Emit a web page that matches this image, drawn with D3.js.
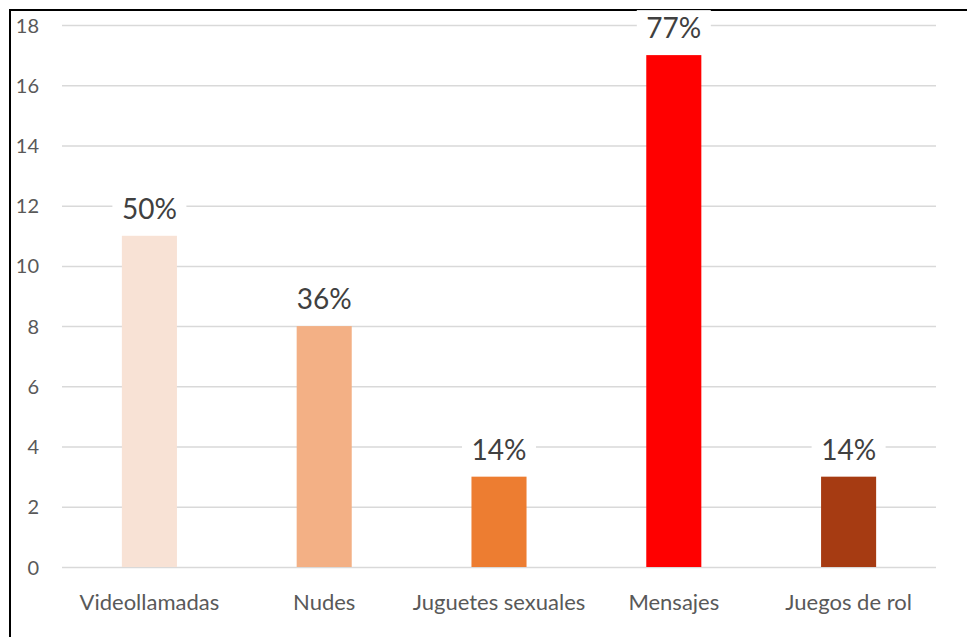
<!DOCTYPE html>
<html>
<head>
<meta charset="utf-8">
<script src="https://cdn.jsdelivr.net/npm/d3@7"></script>
<style>
  html, body { margin: 0; padding: 0; background: #fff; }
  svg { display: block; font-family: Lato, "Open Sans", sans-serif; }
</style>
</head>
<body>
<svg id="chart" width="967" height="637"></svg>
<script>
// Chart data
const categories = ["Videollamadas", "Nudes", "Juguetes sexuales", "Mensajes", "Juegos de rol"];
const counts = [11, 8, 3, 17, 3];
const percentLabels = ["50%", "36%", "14%", "77%", "14%"];
const barColors = ["#f8e2d5", "#f3b085", "#ed7d31", "#ff0000", "#a63b12"];
const yTicks = [0, 2, 4, 6, 8, 10, 12, 14, 16, 18];

const svg = d3.select("#chart");
const W = 967, H = 637;
const margin = { left: 62, right: 31, top: 25, bottom: 70 };

// Outer frame
svg.append("rect")
  .attr("x", 10).attr("y", 10)
  .attr("width", W + 20).attr("height", H + 20)
  .attr("fill", "#fff").attr("stroke", "#000").attr("stroke-width", 2);

const x = d3.scaleBand()
  .domain(categories)
  .range([margin.left, W - margin.right])
  .paddingInner(0.685).paddingOuter(0.3425);

const y = d3.scaleLinear()
  .domain([0, 18])
  .range([H - margin.bottom, margin.top]);

// Gridlines
svg.append("g").selectAll("line")
  .data(yTicks)
  .join("line")
  .attr("x1", margin.left).attr("x2", W - margin.right)
  .attr("y1", d => y(d) + 0.5).attr("y2", d => y(d) + 0.5)
  .attr("stroke", "#d9d9d9").attr("stroke-width", 1.5);

// Y axis labels
const yAxis = d3.axisLeft(y).tickValues(yTicks).tickSize(0).tickPadding(0);
const yg = svg.append("g")
  .attr("transform", `translate(${margin.left - 23},0)`)
  .call(yAxis);
yg.select(".domain").remove();
yg.selectAll("text")
  .attr("fill", "#595959")
  .attr("font-size", 20)
  .attr("font-family", "Lato, 'Open Sans', sans-serif")
  .attr("dy", "0.35em");

// Bars
svg.append("g").selectAll("rect")
  .data(counts)
  .join("rect")
  .attr("x", (d, i) => x(categories[i]))
  .attr("width", x.bandwidth())
  .attr("y", d => y(d))
  .attr("height", d => y(0) - y(d))
  .attr("fill", (d, i) => barColors[i]);

// X axis labels
const xAxis = d3.axisBottom(x).tickSize(0).tickPadding(0);
const xg = svg.append("g")
  .attr("transform", `translate(0,${y(0) + 27})`)
  .call(xAxis);
xg.select(".domain").remove();
xg.selectAll("text")
  .attr("fill", "#595959")
  .attr("font-size", 22)
  .attr("font-family", "Lato, 'Open Sans', sans-serif")
  .attr("dy", "0.71em");

// Value labels with white backing
const labels = svg.append("g").selectAll("g")
  .data(counts)
  .join("g")
  .attr("transform", (d, i) => `translate(${x(categories[i]) + x.bandwidth() / 2},${y(d) - 17})`);

labels.append("rect")
  .attr("x", -37).attr("y", -28)
  .attr("width", 74).attr("height", 34)
  .attr("fill", "#fff");

labels.append("text")
  .attr("text-anchor", "middle")
  .attr("font-size", 28)
  .attr("fill", "#404040")
  .text((d, i) => percentLabels[i]);
</script>
</body>
</html>
